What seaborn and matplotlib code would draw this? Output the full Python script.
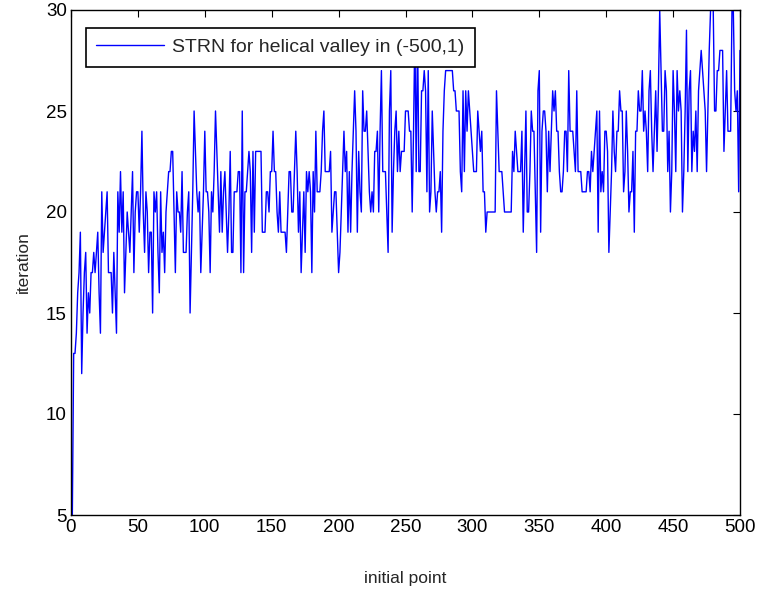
import matplotlib
matplotlib.use("Agg")
import matplotlib.pyplot as plt
import seaborn as sns
import pandas as pd

iterations = [
    5,13,13,14,16,17,19,12,15,17, 18,14,16,15,17,17,18,17,18,19,
    16,14,21,18,19,20,21,17,17,17, 15,18,16,14,21,19,22,19,21,16,
    18,20,19,18,20,22,17,20,21,21, 19,21,24,20,18,21,20,17,19,19,
    15,21,20,21,18,16,21,18,19,17, 20,21,22,22,23,23,20,17,21,20,
    20,19,22,18,18,18,20,21,15,18, 21,25,23,21,20,21,17,19,21,24,
    21,21,20,17,21,20,22,25,23,21, 19,22,19,21,22,20,18,20,23,18,
    18,21,21,21,22,22,17,25,17,21, 21,22,23,22,18,23,19,23,23,23,
    23,23,19,19,19,21,21,20,22,22, 24,22,22,20,19,21,19,19,19,19,
    18,20,22,22,20,20,22,24,22,19, 21,17,19,21,18,22,21,22,21,17,
    22,20,24,21,21,21,22,24,25,22, 22,22,22,23,19,20,21,21,19,17,
    18,20,22,24,22,23,19,22,19,22, 24,26,24,19,23,21,20,26,24,24,
    25,23,21,20,21,20,23,23,24,20, 24,27,22,22,22,20,18,25,27,19,
    22,24,25,22,24,22,23,23,23,25, 25,25,24,24,20,24,29,22,29,22,
    22,26,26,27,26,21,27,20,21,25, 23,21,20,21,21,22,19,24,26,27,
    27,27,27,27,27,26,26,25,25,25, 22,21,26,22,26,24,26,25,24,23,
    22,22,22,25,24,23,24,21,21,19, 20,20,20,20,20,20,20,26,24,22,
    22,22,21,20,20,20,20,20,20,23, 22,24,23,22,22,22,24,19,22,25,
    20,20,22,25,24,24,21,18,26,27, 19,24,25,25,24,21,24,22,24,26,
    25,26,24,24,22,21,21,22,24,24, 22,27,24,24,24,23,22,26,22,22,
    22,21,21,21,21,22,22,21,23,22, 23,24,25,19,25,21,22,21,24,24,
    23,18,20,22,25,23,22,24,24,26, 25,25,21,22,25,23,20,21,21,23,
    19,24,24,26,25,25,27,24,25,24, 22,26,27,24,22,24,26,23,26,30,
    27,24,24,27,26,22,24,20,22,27, 25,22,27,25,26,25,20,22,25,29,
    22,26,27,22,24,23,25,22,26,27, 28,27,26,25,22,25,28,30,30,30,
    25,25,27,27,28,28,28,23,25,27, 24,24,24,30,30,26,25,26,21,28,
]
initial_points = list(range(1, len(iterations) + 1))
series_label = "STRN for helical valley in (-500,1)"
x_ticks = [0, 50, 100, 150, 200, 250, 300, 350, 400, 450, 500]
y_ticks = [5, 10, 15, 20, 25, 30]

sns.set_theme(style="white")
plt.rcParams["font.family"] = ["Liberation Sans", "DejaVu Sans"]

df = pd.DataFrame({"initial point": initial_points, "iteration": iterations,
                   "series": series_label})

fig = plt.figure(figsize=(7.57, 5.93), dpi=100)
ax = fig.add_axes([71/757, 78/593, 669/757, 505/593])

sns.lineplot(data=df, x="initial point", y="iteration", hue="series",
             palette=["#0000ff"], linewidth=1.0, ax=ax, estimator=None,
             sort=False)

ax.set_xlim(0, 500)
ax.set_ylim(5, 30)
ax.set_xticks(x_ticks)
ax.set_yticks(y_ticks)
ax.tick_params(direction="in", length=5, width=0.8, top=True, right=True,
               labelsize=13.5, colors="black", pad=3)
for s in ax.spines.values():
    s.set_visible(True)
    s.set_color("black")
    s.set_linewidth(1.0)
ax.set_xlabel("initial point", fontsize=12.5, labelpad=25)
ax.set_ylabel("iteration", fontsize=12.5, labelpad=11)

leg = ax.legend(loc="upper left", bbox_to_anchor=(0.022, 0.965), fontsize=14,
                frameon=True, fancybox=False, handlelength=3.5,
                borderpad=0.55, handletextpad=0.4, borderaxespad=0)
leg._legend_box.sep = 0
frame = leg.get_frame()
frame.set_edgecolor("black")
frame.set_linewidth(1.2)
frame.set_alpha(1)
leg.borderpad = 0.55

fig.savefig("out.png", dpi=100)
